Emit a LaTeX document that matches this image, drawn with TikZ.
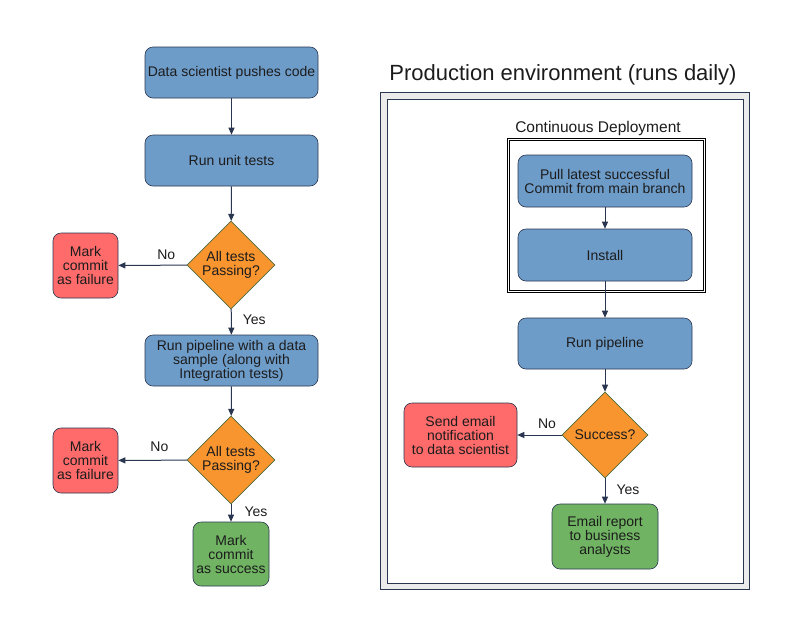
\documentclass[tikz,border=0pt]{standalone}
\usepackage{fontspec}
\setmainfont{Liberation Sans}
\usepackage{xcolor}
\usepackage{tikz}
\usetikzlibrary{shapes,arrows,positioning,calc,arrows.meta}

\definecolor{boxblue}{HTML}{6E9CC9}
\definecolor{boxred}{HTML}{FF6B6B}
\definecolor{boxgreen}{HTML}{70B463}
\definecolor{diaorange}{HTML}{F9952F}
\definecolor{edgenavy}{HTML}{2A3650}
\definecolor{diaedge}{HTML}{4E6B3C}
\definecolor{framegray}{HTML}{EBEBEB}
\definecolor{txt}{HTML}{1C1C1C}

\begin{document}
\begin{tikzpicture}[x=1pt, y=-1pt,
    every node/.style={font=\fontsize{14}{14}\selectfont, text=txt},
    proc/.style={draw=edgenavy, line width=0.6pt, rounded corners=8pt, align=center, inner sep=0pt},
    bluebox/.style={proc, fill=boxblue, minimum width=173pt, minimum height=51pt},
    failbox/.style={proc, fill=boxred},
    okbox/.style={proc, fill=boxgreen},
    decide/.style={diamond, draw=diaedge, line width=0.6pt, fill=diaorange, align=center, inner sep=0pt, minimum width=88pt, minimum height=88pt},
    flow/.style={draw=edgenavy, line width=1pt, -{Triangle[length=7pt,width=6pt]}},
    lbl/.style={font=\fontsize{14}{14}\selectfont, inner sep=1pt}
]
    \useasboundingbox (0,0) rectangle (800,622);

    % Left: commit checks
    \node[bluebox] (push) at (231.5,72.5) {Data scientist pushes code};
    \node[bluebox] (unit) at (231.5,160.5) {Run unit tests};
    \node[decide] (chkA) at (231,265) {All tests\\Passing?};
    \node[failbox, minimum width=65pt, minimum height=65pt] (failA) at (85.5,265.5) {Mark\\commit\\as failure};
    \node[bluebox] (sample) at (231.5,360.5) {Run pipeline with a data\\sample (along with\\Integration tests)};
    \node[decide] (chkB) at (231,460) {All tests\\Passing?};
    \node[failbox, minimum width=65pt, minimum height=65pt] (failB) at (85.5,460.5) {Mark\\commit\\as failure};
    \node[okbox, minimum width=76pt, minimum height=64pt] (done) at (231,554) {Mark\\commit\\as success};

    \draw[flow] (push) -- (unit);
    \draw[flow] (unit) -- (chkA);
    \draw[flow] (chkA) -- node[lbl, pos=0.3, above=4pt] {No} (failA);
    \draw[flow] (chkA) -- node[lbl, pos=0.42, right=10pt] {Yes} (sample);
    \draw[flow] (sample) -- (chkB);
    \draw[flow] (chkB) -- node[lbl, pos=0.4, above=7pt] {No} (failB);
    \draw[flow] (chkB) -- node[lbl, pos=0.4, right=12pt] {Yes} (done);

    % Right: production environment
    \node[font=\fontsize{22}{26}\selectfont] (prodtitle) at (563,75) {Production environment (runs daily)};
    \draw[draw=edgenavy, line width=0.8pt, fill=framegray] (380.5,92.5) rectangle (749.5,589.5);
    \draw[draw=edgenavy, line width=0.8pt, fill=white] (387,99) rectangle (743.5,583);

    \node[font=\fontsize{15.5}{18}\selectfont] (cdtitle) at (598,128) {Continuous Deployment};
    \draw[draw=black, line width=0.6pt, double=white, double distance=1.6pt] (508.5,139.5) rectangle (704.5,291.5);

    \node[bluebox, minimum width=174pt, minimum height=52pt] (pull) at (605,181) {Pull latest successful\\Commit from main branch};
    \node[bluebox, minimum width=174pt, minimum height=52pt] (install) at (605,255) {Install};
    \node[bluebox, minimum width=174pt] (runpipe) at (605,343.5) {Run pipeline};
    \node[decide, minimum width=86pt, minimum height=86pt] (chkC) at (605,435) {Success?};
    \node[failbox, minimum width=113pt, minimum height=64pt] (notify) at (460.5,435) {Send email\\notification\\to data scientist};
    \node[okbox, minimum width=106pt, minimum height=65pt] (report) at (605,536.5) {Email report\\to business\\analysts};

    \draw[flow] (pull) -- (install);
    \draw[flow] (install) -- (runpipe);
    \draw[flow] (runpipe) -- (chkC);
    \draw[flow] (chkC) -- node[lbl, pos=0.33, above=5pt] {No} (notify);
    \draw[flow] (chkC) -- node[lbl, pos=0.45, right=10pt] {Yes} (report);
\end{tikzpicture}
\end{document}
